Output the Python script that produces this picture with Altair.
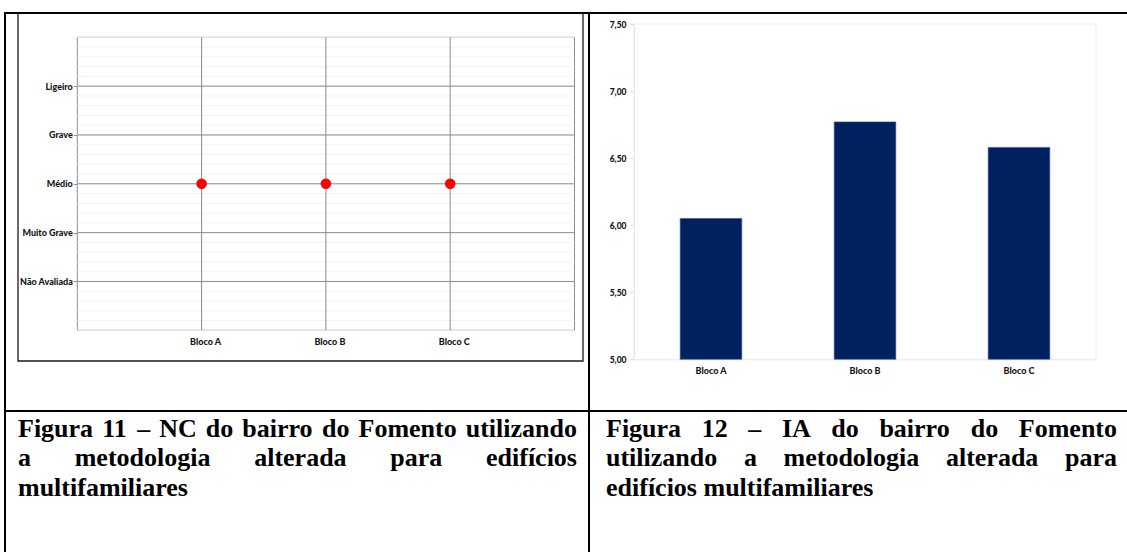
import altair as alt
import pandas as pd

# ---------------------------------------------------------------- data
blocks = ["Bloco A", "Bloco B", "Bloco C"]
nc_levels = ["Não Avaliada", "Muito Grave", "Médio", "Grave", "Ligeiro"]  # bottom -> top
nc_values = ["Médio", "Médio", "Médio"]
ia_values = [6.05, 6.77, 6.58]
ia_ticks = [5.0, 5.5, 6.0, 6.5, 7.0, 7.5]

caption_11 = [
    ("Figura 11 – NC do bairro do Fomento utilizando", True),
    ("a metodologia alterada para edifícios", True),
    ("multifamiliares", False),
]
caption_12 = [
    ("Figura 12 – IA do bairro do Fomento", True),
    ("utilizando a metodologia alterada para", True),
    ("edifícios multifamiliares", False),
]

# ---------------------------------------------------------------- page geometry
W, H = 1127, 552
LABEL_FONT = "Lato"
INK = "#141414"
GRID = "#8c8c8c"

NC_PLOT = dict(x0=77.3, x1=574.5, y0=37.3, y1=330.3)
IA_PLOT = dict(x0=634.0, x1=1096.0, y0=24.0, y1=359.3)

CAPTION_SIZE = 26
CAPTION_BASELINE = 436.5
CAPTION_LEADING = 29.5

# Times New Roman Bold advance widths (1/1000 em) used to justify caption lines
TNR_BOLD = {
    " ": 250, "a": 500, "b": 556, "c": 444, "d": 556, "e": 444, "f": 333,
    "g": 500, "i": 278, "í": 278, "l": 278, "m": 833, "n": 556, "o": 500,
    "p": 556, "r": 444, "s": 389, "t": 333, "u": 556, "z": 444, "A": 722,
    "C": 722, "F": 611, "I": 389, "N": 722, "1": 500, "2": 500, "–": 500,
}


def word_width(word, size):
    return sum(TNR_BOLD.get(c, 500) for c in word) * size / 1000.0


def caption_rows(lines, left, right):
    rows = []
    for i, (text, justify) in enumerate(lines):
        y = CAPTION_BASELINE + i * CAPTION_LEADING
        words = text.split(" ")
        if justify and len(words) > 1:
            widths = [word_width(w, CAPTION_SIZE) for w in words]
            gap = (right - left - sum(widths)) / (len(words) - 1)
            x = left
            for j, (w, wd) in enumerate(zip(words, widths)):
                last = j == len(words) - 1
                rows.append({"word": w, "px": right if last else x, "py": y,
                             "anchor": "right" if last else "left"})
                x += wd + gap
        else:
            rows.append({"word": text, "px": left, "py": y, "anchor": "left"})
    return rows


def px(field):
    return alt.X(f"{field}:Q", scale=None, axis=None)


def py(field):
    return alt.Y(f"{field}:Q", scale=None, axis=None)


# ---------------------------------------------------------------- NC chart (left)
nc_df = pd.DataFrame({"bloco": blocks, "nivel": nc_values})
nc_df["rank"] = [nc_levels.index(v) + 1 for v in nc_values]
level_df = pd.DataFrame({"nivel": nc_levels, "rank": list(range(1, len(nc_levels) + 1))})
block_df = pd.DataFrame({"bloco": blocks})


def x_nc():
    return alt.Scale(type="point", domain=blocks,
                     range=[NC_PLOT["x0"], NC_PLOT["x1"]], padding=1)


def y_nc():
    return alt.Scale(domain=[0, len(nc_levels) + 1],
                     range=[NC_PLOT["y1"], NC_PLOT["y0"]], nice=False, zero=False)


level_names = "[" + ",".join(f"'{n}'" for n in nc_levels) + "]"
y_axis_nc = alt.Axis(
    orient="left", offset=-NC_PLOT["x0"], values=list(range(1, len(nc_levels) + 1)),
    labelExpr=f"{level_names}[datum.value - 1]", grid=False, domain=False,
    ticks=True, tickSize=4, tickColor=GRID, labelFont=LABEL_FONT,
    labelFontWeight=900, labelFontSize=9, labelColor=INK, labelPadding=1, title=None,
)
x_axis_nc = alt.Axis(
    orient="bottom", offset=NC_PLOT["y1"] - H, grid=False, domain=False,
    ticks=False, tickSize=0, labelFont=LABEL_FONT, labelFontWeight=900,
    labelFontSize=9, labelColor=INK, labelPadding=7, labelOffset=3.5,
    labelAngle=0, title=None,
)

nc_minor = alt.Chart(alt.sequence(0, 6.001, 0.2, as_="v")).mark_rule(
    color="#f3f3f3", strokeWidth=1
).encode(
    y=alt.Y("v:Q", scale=y_nc(), axis=None),
    x=alt.value(NC_PLOT["x0"]), x2=alt.value(NC_PLOT["x1"]),
)
nc_major_h = alt.Chart(level_df).mark_rule(color=GRID, strokeWidth=1).encode(
    y=alt.Y("rank:Q", scale=y_nc(), axis=y_axis_nc),
    x=alt.value(NC_PLOT["x0"]), x2=alt.value(NC_PLOT["x1"]),
)
nc_major_v = alt.Chart(block_df).mark_rule(color=GRID, strokeWidth=1).encode(
    x=alt.X("bloco:N", scale=x_nc(), axis=x_axis_nc),
    y=alt.value(NC_PLOT["y0"]), y2=alt.value(NC_PLOT["y1"]),
)
nc_points = alt.Chart(nc_df).mark_circle(
    size=95, color="#ff0000", opacity=1, stroke="#d40000", strokeWidth=0.8
).encode(
    x=alt.X("bloco:N", scale=x_nc(), axis=None),
    y=alt.Y("rank:Q", scale=y_nc(), axis=None),
    tooltip=["bloco", "nivel"],
)

# ---------------------------------------------------------------- IA chart (right)
ia_df = pd.DataFrame({"bloco": blocks, "ia": ia_values})
x_ia = alt.Scale(type="band", domain=blocks, range=[IA_PLOT["x0"], IA_PLOT["x1"]],
                 paddingInner=0.6, paddingOuter=0.3)
y_ia = alt.Scale(domain=[ia_ticks[0], ia_ticks[-1]],
                 range=[IA_PLOT["y1"], IA_PLOT["y0"]], nice=False, zero=False)

y_axis_ia = alt.Axis(
    orient="left", offset=-IA_PLOT["x0"], values=ia_ticks,
    labelExpr="replace(format(datum.value, '.2f'), '.', ',')",
    grid=False, domain=True, domainColor="#d9d9d9", ticks=True, tickSize=4,
    tickColor="#d9d9d9", labelFont=LABEL_FONT, labelFontWeight=900,
    labelFontSize=8.5, labelColor=INK, labelPadding=4, title=None,
)
x_axis_ia = alt.Axis(
    orient="bottom", offset=IA_PLOT["y1"] - H, grid=False, domain=True,
    domainColor="#e3e3e3", ticks=False, tickSize=0, labelFont=LABEL_FONT,
    labelFontWeight=900, labelFontSize=9, labelColor=INK, labelPadding=7,
    labelAngle=0, title=None,
)

ia_chart = alt.Chart(ia_df).mark_bar(
    color="#002060", stroke="#34558f", strokeWidth=0.6
).encode(
    x=alt.X("bloco:N", scale=x_ia, axis=x_axis_ia),
    y=alt.Y("ia:Q", scale=y_ia, axis=y_axis_ia),
    y2=alt.datum(ia_ticks[0]),
    tooltip=["bloco", "ia"],
)

# ---------------------------------------------------------------- frames and table rules
frames_df = pd.DataFrame({
    "name": ["nc_outer", "nc_plot", "ia_plot"],
    "x": [18.0, NC_PLOT["x0"], IA_PLOT["x0"]],
    "x2": [583.0, NC_PLOT["x1"], IA_PLOT["x1"]],
    "y": [13.0, NC_PLOT["y0"], IA_PLOT["y0"]],
    "y2": [361.0, NC_PLOT["y1"], IA_PLOT["y1"]],
    "stroke": ["#1a1a1a", GRID, "#eeeeee"],
    "sw": [1.3, 1.0, 1.0],
})
frames = alt.Chart(frames_df).mark_rect(fillOpacity=0).encode(
    x=px("x"), x2="x2:Q", y=py("y"), y2="y2:Q",
    stroke=alt.Stroke("stroke:N", scale=None),
    strokeWidth=alt.StrokeWidth("sw:Q", scale=None),
)

table_df = pd.DataFrame({
    "x": [4.0, 5.0, 589.0, 4.0],
    "x2": [W, 5.0, 589.0, W],
    "y": [13.0, 12.0, 12.0, 411.0],
    "y2": [13.0, H, H, 411.0],
})
table_rules = alt.Chart(table_df).mark_rule(color="black", strokeWidth=2).encode(
    x=px("x"), x2="x2:Q", y=py("y"), y2="y2:Q",
)

# ---------------------------------------------------------------- captions
cap_df = pd.DataFrame(caption_rows(caption_11, 18, 577) + caption_rows(caption_12, 606, 1117))
cap_style = dict(baseline="alphabetic", font="Liberation Serif", fontWeight="bold",
                 fontSize=CAPTION_SIZE, color="black")
cap_left = alt.Chart(cap_df).transform_filter("datum.anchor == 'left'").mark_text(
    align="left", **cap_style
).encode(x=px("px"), y=py("py"), text="word:N")
cap_right = alt.Chart(cap_df).transform_filter("datum.anchor == 'right'").mark_text(
    align="right", **cap_style
).encode(x=px("px"), y=py("py"), text="word:N")

# ---------------------------------------------------------------- assemble
chart = (
    alt.layer(frames, nc_minor, nc_major_h, nc_major_v, nc_points, ia_chart,
              table_rules, cap_left, cap_right)
    .resolve_scale(x="independent", y="independent")
    .resolve_axis(x="independent", y="independent")
    .properties(width=W, height=H, padding=0, background="white",
                autosize=alt.AutoSizeParams(type="none"))
    .configure_view(stroke=None)
)

chart.save("out.html", embed_options={"renderer": "svg", "actions": False})
